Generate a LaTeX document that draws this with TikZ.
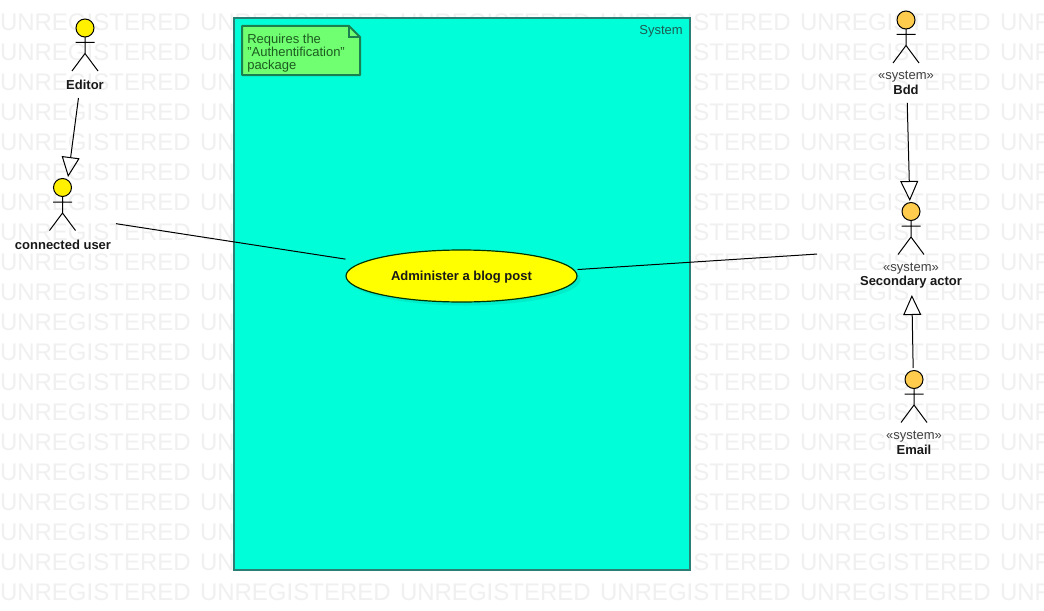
\documentclass[tikz,border=0pt]{standalone}
\usepackage{fontspec}
\setmainfont{Liberation Sans}
\usetikzlibrary{arrows.meta}
\definecolor{wmgray}{HTML}{F0F0F0}
\definecolor{sysfill}{HTML}{00FFD9}
\definecolor{sysline}{HTML}{2A7F74}
\definecolor{sysink}{HTML}{1E5A52}
\definecolor{notefill}{HTML}{70FF70}
\definecolor{noteline}{HTML}{1A8050}
\definecolor{noteink}{HTML}{1C5C20}
\definecolor{actoryellow}{HTML}{FFF000}
\definecolor{actororange}{HTML}{FFCC4D}
\definecolor{ucyellow}{HTML}{FFFF00}
\definecolor{ucshadow}{HTML}{00EDCB}
\tikzset{
  x=0.75pt,y=-0.75pt,
  wmtext/.style={anchor=base west,inner sep=0pt,outer sep=0pt,text=wmgray,font=\fontsize{18}{18}\selectfont},
  hitbox/.style={inner sep=0pt,outer sep=0pt,rectangle},
  namelabel/.style={inner sep=0pt,outer sep=0pt,font=\fontsize{9.75}{9.75}\selectfont\bfseries,text=black!90},
  stereolabel/.style={inner sep=0pt,outer sep=0pt,font=\fontsize{9.75}{9.75}\selectfont,text=black!75},
  assoc/.style={draw=black,line width=0.75pt},
  general/.style={draw=black,line width=0.75pt,-{Triangle[open,length=15pt,width=13.5pt,line width=0.75pt]}},
  pics/stickman/.style={code={
    \draw[black,line width=0.75pt,fill=#1] (0,-8) circle[radius=9];
    \draw[black,line width=0.75pt] (-9.5,6.5)--(9.5,6.5) (0,1)--(0,17.5) (-13,35)--(0,17.5)--(13,35);
  }}
}
\begin{document}
\begin{tikzpicture}
\useasboundingbox (0,0) rectangle (1044,610);
\clip (0,0) rectangle (1044,610);
\fill[white] (0,0) rectangle (1044,610);
% watermark
\foreach \r in {0,...,19}{
  \foreach \c in {0,...,5}{
    \node[wmtext] (wm-\r-\c) at ({\c*200},{30.5+\r*30}) {UNREGISTERED};
  }
}
% system boundary
\node[hitbox,draw=sysline,line width=1.5pt,fill=sysfill,minimum width=342pt,minimum height=414pt] (system) at (462,294) {};
\node[anchor=base east,inner sep=0pt,text=sysink,font=\fontsize{9.75}{9.75}\selectfont] (systemlabel) at (683,35) {System};
% note
\draw[noteline,line width=1.5pt,fill=notefill,line join=round] (242,26)--(349,26)--(360,37)--(360,75)--(242,75)--cycle;
\draw[noteline,line width=1pt] (349,26)--(349,37)--(360,37);
\node[anchor=north west,inner sep=0pt,align=left,text=noteink,font=\fontsize{9.75}{9.75}\selectfont] (notetext) at (247,33.5) {Requires the\\"Authentification"\\package};
% use case
\fill[ucshadow] (465,279.5) ellipse[x radius=115.5,y radius=26];
\draw[black!80!green,line width=0.9pt,fill=ucyellow] (461.5,276) ellipse[x radius=115.5,y radius=26];
\node[hitbox,minimum width=174pt,minimum height=39pt,text=black!90,font=\fontsize{9.75}{9.75}\selectfont\bfseries] (uc) at (461.5,277) {Administer a blog post};
% actors
\node[hitbox,minimum width=30pt,minimum height=63pt] (editor) at (84,56) {};
\pic at (85,36) {stickman=actoryellow};
\node[namelabel] (editorname) at (85,85) {Editor};

\node[hitbox,minimum width=79.5pt,minimum height=57.75pt] (connected) at (63,215.5) {};
\pic at (62.5,195.5) {stickman=actoryellow};
\node[namelabel] (connectedname) at (63,245) {connected user};

\node[hitbox,minimum width=40pt,minimum height=71pt] (bdd) at (906,55.5) {};
\pic at (906,28) {stickman=actororange};
\node[stereolabel] (bddstereo) at (906,76.5) {«system»};
\node[namelabel] (bddname) at (906,90) {Bdd};

\node[hitbox,minimum width=141pt,minimum height=70.5pt] (secondary) at (911,248) {};
\pic at (911,219.5) {stickman=actororange};
\node[stereolabel] (secondarystereo) at (911,268.5) {«system»};
\node[namelabel] (secondaryname) at (911,282) {Secondary actor};

\node[hitbox,minimum width=40pt,minimum height=70.5pt] (email) at (914,415) {};
\pic at (914,387.5) {stickman=actororange};
\node[stereolabel] (emailstereo) at (914,436.5) {«system»};
\node[namelabel] (emailname) at (914,450) {Email};
% connectors
\draw[general] (editor) -- (connected);
\draw[general] (bdd) -- (secondary);
\draw[general] (email) -- (secondary);
\draw[assoc] (connected) -- (uc);
\draw[assoc] (uc) -- (secondary);
\end{tikzpicture}
\end{document}
